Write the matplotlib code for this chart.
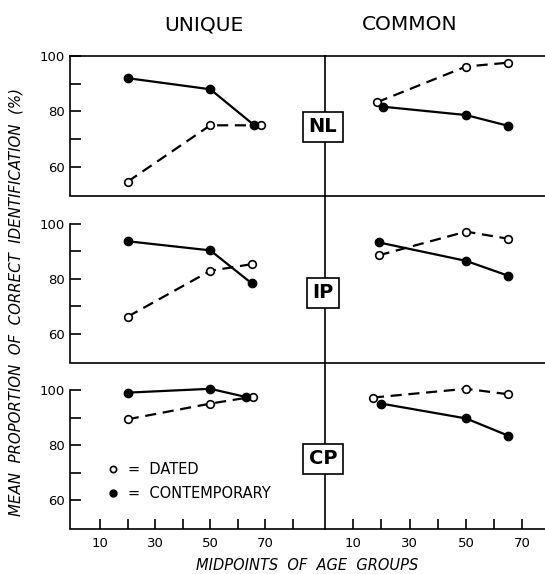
import matplotlib
matplotlib.use("Agg")
import matplotlib.pyplot as plt
from matplotlib.lines import Line2D

plt.rcParams['font.family'] = ['DejaVu Sans']

# ---------------- data ----------------
rows = ["NL", "IP", "CP"]
columns = ["UNIQUE", "COMMON"]

# UNIQUE column
uniq_cont_x = [[20, 50, 66], [20, 50, 65], [20, 50, 63]]
uniq_cont_y = [[92, 88, 75], [93.6, 90.3, 78.4], [99.2, 100.6, 97.6]]
uniq_dated_x = [[20, 50, 68.5], [20, 50, 65], [20, 50, 65.5]]
uniq_dated_y = [[54.7, 75, 75], [66.3, 82.9, 85.3], [89.5, 95.2, 97.7]]

# COMMON column
comm_cont_x = [[20.6, 50, 65], [19, 50, 65], [20, 50, 65]]
comm_cont_y = [[81.7, 78.7, 74.8], [93.2, 86.5, 81.1], [95.2, 89.8, 83.5]]
comm_dated_x = [[18.4, 50, 65], [19, 50, 65], [17, 50, 65]]
comm_dated_y = [[83.3, 96.2, 97.6], [88.5, 97.1, 94.5], [97.4, 100.6, 98.6]]

y_ticks_major = [60, 80, 100]
y_ticks_minor = [70, 90]
x_ticks_left = [10, 20, 30, 40, 50, 60, 70, 80]
x_ticks_right = [10, 20, 30, 40, 50, 60, 70]
x_tick_labels = ["10", "", "30", "", "50", "", "70", ""]
legend_labels = ["=  DATED", "=  CONTEMPORARY"]

# ---------------- layout ----------------
W, H = 545, 574
fig = plt.figure(figsize=(W / 100, H / 100), dpi=100)

def fx(px):
    return px / W

def fy(py):
    return 1 - py / H

row_px = [(56, 196), (196, 363), (363, 529)]
row_ylim = [(49.5, 100), (49.5, 110), (49.5, 110)]
left_px = (70, 325)
right_px = (325, 545)

lw = 1.6
ms = 5.5
dash = (5, 3)

axes = []
for r in range(3):
    top, bot = row_px[r]
    row_axes = []
    for c, (x0, x1) in enumerate([left_px, right_px]):
        ax = fig.add_axes([fx(x0), fy(bot), fx(x1 - x0), (bot - top) / H])
        ax.set_ylim(*row_ylim[r])
        if c == 0:
            ax.set_xlim(-1, 91.7)
            cx, cy, dx, dy = uniq_cont_x[r], uniq_cont_y[r], uniq_dated_x[r], uniq_dated_y[r]
        else:
            ax.set_xlim(0, 78)
            cx, cy, dx, dy = comm_cont_x[r], comm_cont_y[r], comm_dated_x[r], comm_dated_y[r]
        ax.plot(dx, dy, color='black', lw=lw, ls=(0, dash), marker='o', ms=ms,
                mfc='white', mec='black', mew=1.2, zorder=3)
        ax.plot(cx, cy, color='black', lw=lw, ls='-', marker='o', ms=ms + 0.5,
                mfc='black', mec='black', zorder=4)
        ax.spines['right'].set_visible(False)
        ax.spines['top'].set_visible(r == 0)
        for s in ax.spines.values():
            s.set_linewidth(1.2)
        if c == 0:
            ax.spines['left'].set_bounds(50, 100)
            ax.set_yticks(y_ticks_major)
            ax.set_yticks(y_ticks_minor, minor=True)
            ax.tick_params(axis='y', which='both', direction='in', length=8,
                           width=1.2, labelsize=9.5, pad=4)
        else:
            ax.spines['left'].set_visible(False)
            ax.set_yticks([])
        if r == 2:
            ticks = x_ticks_left if c == 0 else x_ticks_right
            ax.set_xticks(ticks)
            ax.set_xticklabels(x_tick_labels[:len(ticks)])
            ax.tick_params(axis='x', direction='in', length=7, width=1.2,
                           labelsize=9.5, pad=6)
        else:
            ax.set_xticks([])
        ax.patch.set_visible(False)
        row_axes.append(ax)
    axes.append(row_axes)

# centre divider
fig.add_artist(Line2D([fx(325), fx(325)], [fy(56), fy(529)], color='black', lw=1.2))

# row labels in boxes
box_y_px = [127, 293, 459]
for r, lab in enumerate(rows):
    fig.text(fx(323), fy(box_y_px[r]), lab, ha='center', va='center', fontsize=14,
             fontweight='bold',
             bbox=dict(boxstyle='square,pad=0.3', fc='white', ec='black', lw=1.2),
             zorder=10)

# column titles
fig.text(fx(204), fy(25), columns[0], ha='center', va='center', fontsize=14.5)
fig.text(fx(410), fy(25), columns[1], ha='center', va='center', fontsize=14.5)

# axis labels
fig.text(fx(16), fy(302), "MEAN  PROPORTION  OF  CORRECT  IDENTIFICATION  (%)",
         rotation=90, ha='center', va='center', fontsize=10.8, style='italic')
fig.text(fx(307), fy(565), "MIDPOINTS  OF  AGE  GROUPS", ha='center', va='center',
         fontsize=10.5, style='italic')

# legend
handles = [Line2D([], [], ls='none', marker='o', ms=4.5, mfc='white', mec='black', mew=1.2),
           Line2D([], [], ls='none', marker='o', ms=5, mfc='black', mec='black')]
leg = axes[2][0].legend(handles, legend_labels, loc='upper left',
                        bbox_to_anchor=(fx(100 - 70) / fx(255), (529 - 455) / 166),
                        frameon=False, fontsize=10.5, handlelength=0.8,
                        handletextpad=0.6, labelspacing=0.6, borderpad=0)

fig.savefig("out.png", dpi=100)
